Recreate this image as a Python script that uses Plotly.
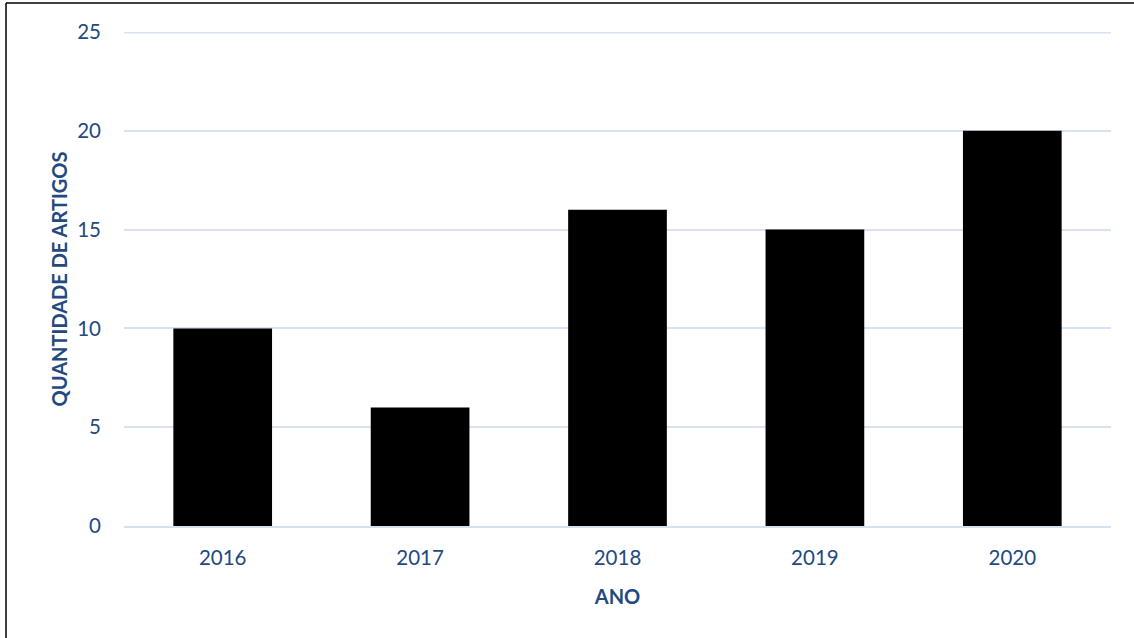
import plotly.graph_objects as go

anos = ["2016", "2017", "2018", "2019", "2020"]
artigos = [10, 6, 16, 15, 20]
y_ticks = [0, 5, 10, 15, 20, 25]

W, H = 1134, 638
L, R, T, B = 124, 23, 32, 112
pw, ph = W - L - R, H - T - B

def px_x(x):
    return (x - L) / pw

def px_y(y):
    return (H - B - y) / ph

text_color = "#24497E"
grid_color = "#D9E2F0"

fig = go.Figure(go.Bar(x=anos, y=artigos, marker=dict(color="black", line=dict(width=0))))

fig.update_layout(
    width=W, height=H,
    margin=dict(l=L, r=R, t=T, b=B),
    paper_bgcolor="white", plot_bgcolor="white",
    bargap=0.5,
    showlegend=False,
    font=dict(family="Lato, Open Sans, sans-serif", size=20, color=text_color),
    xaxis=dict(
        type="category",
        showgrid=False,
        showline=True, linecolor="#D6E0EE", linewidth=2,
        ticks="", ticklabelstandoff=12,
        tickfont=dict(size=20.5, color=text_color),
        title=dict(text="<b>ANO</b>", font=dict(size=20, color=text_color), standoff=22),
    ),
    yaxis=dict(
        range=[0, 25],
        tickvals=y_ticks,
        showgrid=True, gridcolor=grid_color, gridwidth=1.5,
        zeroline=False, showline=False,
        ticks="", ticklabelstandoff=22,
        tickfont=dict(size=20.5, color=text_color),
        title=dict(text="<b>QUANTIDADE DE ARTIGOS</b>", font=dict(size=20, color=text_color), standoff=4),
    ),
    shapes=[
        dict(type="line", xref="paper", yref="y",
             x0=0, x1=1, y0=y_ticks[-1], y1=y_ticks[-1],
             line=dict(color=grid_color, width=3), layer="below"),
        dict(type="line", xref="paper", yref="paper",
             x0=px_x(6), x1=px_x(W + 5), y0=px_y(3), y1=px_y(3),
             line=dict(color="black", width=1.5)),
        dict(type="line", xref="paper", yref="paper",
             x0=px_x(6), x1=px_x(6), y0=px_y(3), y1=px_y(H + 5),
             line=dict(color="black", width=1.5)),
    ],
)

fig.write_html("out.html")
